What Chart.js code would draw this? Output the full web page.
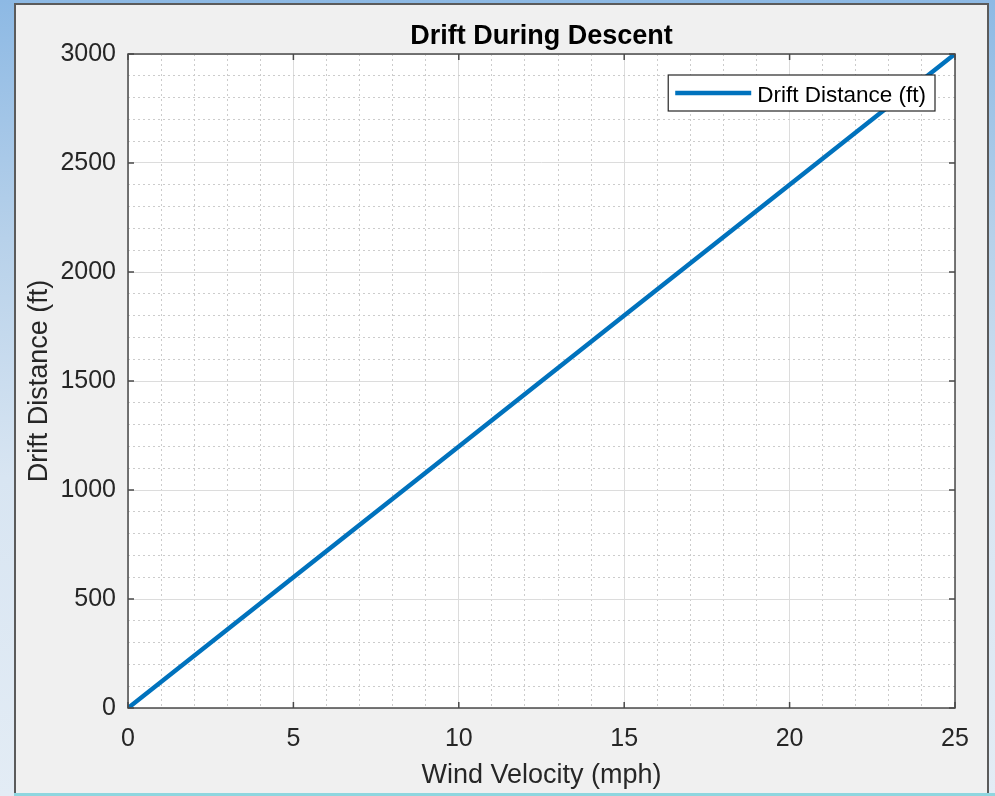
<!DOCTYPE html>
<html>
<head>
<meta charset="utf-8">
<title>Drift During Descent</title>
<script src="https://cdn.jsdelivr.net/npm/chart.js@4.4.1/dist/chart.umd.min.js"></script>
<style>
    html, body { margin: 0; padding: 0; }
    body {
        width: 995px; height: 796px; overflow: hidden; position: relative;
        background: linear-gradient(to bottom, #8db9e4 0%, #b7d1ea 30%, #d8e5f2 60%, #e3ecf5 100%);
    }
    #fig {
        position: absolute; left: 14px; top: 3px; width: 971px; height: 790px;
        background: #f0f0f0; border: 2px solid #5b5b5b; border-bottom: none;
    }
    #edge { position: absolute; left: 14px; right: 0; top: 793px; height: 3px; background: #8fd6df; }
    #chart { position: absolute; left: 0; top: 0; }
</style>
</head>
<body>
<div id="fig"></div>
<div id="edge"></div>
<canvas id="chart" width="995" height="796"></canvas>
<script>
const windVelocity = [0, 5, 10, 15, 20, 25];
const driftDistance = [0, 600, 1200, 1800, 2400, 3000];
const xTicks = [0, 5, 10, 15, 20, 25];
const yTicks = [0, 500, 1000, 1500, 2000, 2500, 3000];

const FONT = '"Liberation Sans", Arial, Helvetica, sans-serif';
const LINE_COLOR = '#0072BD';
const AXIS_COLOR = '#4a4a4a';
const TEXT_COLOR = '#262626';

// white plot area, box with inside ticks, and a MATLAB style legend
const framePlugin = {
    id: 'frame',
    beforeDraw(chart) {
        const { ctx, chartArea: a } = chart;
        ctx.save();
        ctx.fillStyle = '#ffffff';
        ctx.fillRect(a.left, a.top, a.right - a.left, a.bottom - a.top);
        ctx.restore();
    },
    afterDatasetsDraw(chart) {
        const { ctx, chartArea: a, scales } = chart;
        ctx.save();
        ctx.strokeStyle = AXIS_COLOR;
        ctx.lineWidth = 1.5;
        ctx.beginPath();
        xTicks.forEach(v => {
            const px = scales.x.getPixelForValue(v);
            ctx.moveTo(px, a.bottom); ctx.lineTo(px, a.bottom - 6);
            ctx.moveTo(px, a.top); ctx.lineTo(px, a.top + 6);
        });
        yTicks.forEach(v => {
            const py = scales.y.getPixelForValue(v);
            ctx.moveTo(a.left, py); ctx.lineTo(a.left + 6, py);
            ctx.moveTo(a.right, py); ctx.lineTo(a.right - 6, py);
        });
        ctx.stroke();
        ctx.strokeRect(a.left, a.top, a.right - a.left, a.bottom - a.top);

        const ds = chart.data.datasets[0];
        ctx.font = '22.5px ' + FONT;
        const tw = ctx.measureText(ds.label).width;
        const w = tw + 98, h = 36;
        const bx = a.right - 20 - w, by = a.top + 21;
        ctx.fillStyle = '#ffffff';
        ctx.fillRect(bx, by, w, h);
        ctx.lineWidth = 1.2;
        ctx.strokeStyle = '#262626';
        ctx.strokeRect(bx, by, w, h);
        ctx.strokeStyle = ds.borderColor;
        ctx.lineWidth = ds.borderWidth;
        ctx.beginPath();
        ctx.moveTo(bx + 7, by + h / 2);
        ctx.lineTo(bx + 83, by + h / 2);
        ctx.stroke();
        ctx.fillStyle = '#000000';
        ctx.textBaseline = 'middle';
        ctx.fillText(ds.label, bx + 89, by + h / 2 + 3);
        ctx.restore();
    }
};

function gridColor(major) {
    return ctx => (ctx.tick && major.includes(ctx.tick.value)) ? '#dcdcdc' : '#cccccc';
}
function gridDash(major) {
    return ctx => (ctx.tick && !major.includes(ctx.tick.value)) ? [2, 3] : [];
}

new Chart(document.getElementById('chart'), {
    type: 'line',
    data: {
        labels: windVelocity,
        datasets: [{
            label: 'Drift Distance (ft)',
            data: windVelocity.map((v, i) => ({ x: v, y: driftDistance[i] })),
            borderColor: LINE_COLOR,
            backgroundColor: LINE_COLOR,
            borderWidth: 4.5,
            pointRadius: 0,
            tension: 0,
        }]
    },
    options: {
        responsive: false,
        animation: false,
        layout: { padding: { left: 14, right: 40, top: 0, bottom: 0 } },
        plugins: {
            legend: { display: false },
            tooltip: { enabled: false },
            title: {
                display: true,
                fullSize: false,
                text: 'Drift During Descent',
                color: '#000000',
                font: { family: FONT, size: 27, weight: 'bold' },
                padding: { top: 20, bottom: 1.6 }
            }
        },
        scales: {
            x: {
                type: 'linear',
                min: 0, max: 25,
                afterFit: s => { s.height = 88; },
                ticks: {
                    stepSize: 1, autoSkip: false, maxRotation: 0, padding: 16,
                    color: TEXT_COLOR,
                    font: { family: FONT, size: 25 },
                    callback: v => xTicks.includes(v) ? String(v) : ''
                },
                grid: { color: gridColor(xTicks), lineWidth: 1, drawTicks: false },
                border: { display: false, dash: gridDash(xTicks) },
                title: {
                    display: true, text: 'Wind Velocity (mph)', color: TEXT_COLOR,
                    font: { family: FONT, size: 27 }, padding: { top: 4, bottom: 4 }
                }
            },
            y: {
                min: 0, max: 3000,
                afterFit: s => { s.width = 114; },
                ticks: {
                    stepSize: 100, autoSkip: false, padding: 12,
                    color: TEXT_COLOR,
                    font: { family: FONT, size: 25 },
                    callback: v => yTicks.includes(v) ? String(v) : ''
                },
                grid: { color: gridColor(yTicks), lineWidth: 1, drawTicks: false },
                border: { display: false, dash: gridDash(yTicks) },
                title: {
                    display: true, text: 'Drift Distance (ft)', color: TEXT_COLOR,
                    font: { family: FONT, size: 27 }, padding: { top: 9, bottom: 9 }
                }
            }
        }
    },
    plugins: [framePlugin]
});
</script>
</body>
</html>
